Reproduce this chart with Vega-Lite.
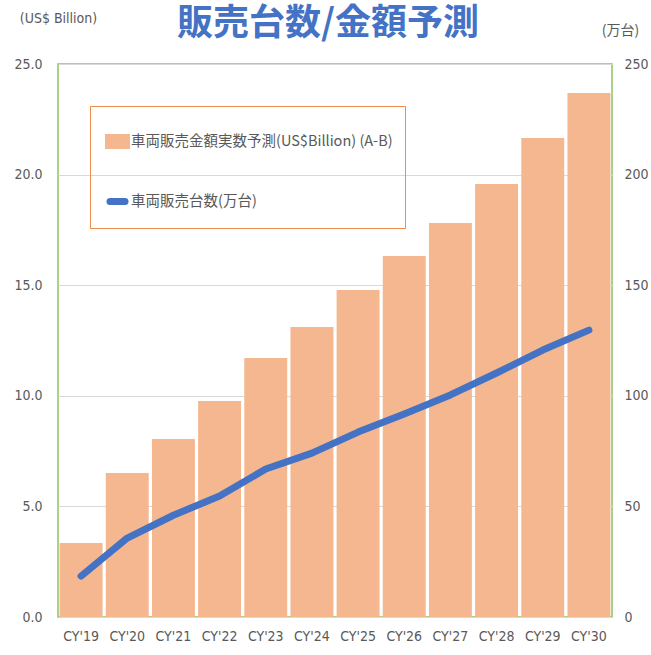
{
  "$schema": "https://vega.github.io/schema/vega-lite/v6.json",
  "width": 554,
  "height": 553,
  "autosize": {"type": "none"},
  "padding": {"left": 58, "top": 64, "right": 39, "bottom": 38},
  "background": "white",
  "title": {
    "text": "販売台数/金額予測",
    "font": "Noto Sans CJK JP",
    "fontWeight": "bold",
    "fontSize": 36,
    "color": "#4472C4",
    "anchor": "middle",
    "frame": "group",
    "dx": -7,
    "offset": 0,
    "dy": 32
  },
  "config": {
    "view": {"stroke": "#8DC262", "strokeWidth": 1.5},
    "axis": {
      "labelFont": "'DejaVu Sans Condensed', 'Liberation Sans Narrow', sans-serif",
      "labelFontSize": 14,
      "labelColor": "#595959",
      "titleFont": "'DejaVu Sans Condensed', 'Liberation Sans Narrow', sans-serif",
      "titleFontSize": 14,
      "titleFontWeight": "normal",
      "titleColor": "#595959"
    }
  },
  "data": {
    "values": [
      {"year": "CY'19", "amount": 3.35, "units": 18.5},
      {"year": "CY'20", "amount": 6.51, "units": 35.7},
      {"year": "CY'21", "amount": 8.05, "units": 46.0},
      {"year": "CY'22", "amount": 9.76, "units": 54.7},
      {"year": "CY'23", "amount": 11.71, "units": 66.9},
      {"year": "CY'24", "amount": 13.11, "units": 74.1},
      {"year": "CY'25", "amount": 14.78, "units": 83.6},
      {"year": "CY'26", "amount": 16.32, "units": 91.8},
      {"year": "CY'27", "amount": 17.81, "units": 100.4},
      {"year": "CY'28", "amount": 19.58, "units": 110.3},
      {"year": "CY'29", "amount": 21.65, "units": 120.7},
      {"year": "CY'30", "amount": 23.69, "units": 129.7}
    ]
  },
  "encoding": {
    "x": {
      "field": "year",
      "type": "ordinal",
      "sort": null,
      "scale": {"paddingInner": 0.07, "paddingOuter": 0.035},
      "axis": {
        "title": null,
        "labelAngle": 0,
        "domain": false,
        "ticks": false,
        "labelPadding": 12
      }
    }
  },
  "layer": [
    {
      "mark": {"type": "bar", "color": "#F4B78F"},
      "encoding": {
        "y": {
          "field": "amount",
          "type": "quantitative",
          "scale": {"domain": [0, 25], "nice": false},
          "axis": {
            "values": [0, 5, 10, 15, 20, 25],
            "format": ".1f",
            "domain": false,
            "ticks": false,
            "labelPadding": 16,
            "gridColor": "#D9D9D9",
            "title": "(US$ Billion)",
            "titleAngle": 0,
            "titleX": 0,
            "titleY": -46,
            "titleAlign": "center",
            "titleBaseline": "middle"
          }
        },
        "color": {
          "datum": "車両販売金額実数予測(US$Billion) (A-B)",
          "type": "nominal",
          "scale": {
            "domain": ["車両販売金額実数予測(US$Billion) (A-B)", "車両販売台数(万台)"],
            "range": ["#F4B78F", "#4472C4"]
          },
          "legend": {
            "orient": "none",
            "legendX": 32,
            "legendY": 42,
            "title": null,
            "strokeColor": "#F08C4A",
            "padding": 12,
            "rowPadding": 18,
            "symbolSize": 1600,
            "labelFont": "Noto Sans CJK JP",
            "labelFontSize": 14.5,
            "labelColor": "#595959",
            "labelLimit": 400,
            "labelOffset": -18,
            "encode": {
              "symbols": {
                "update": {
                  "shape": [
                    {"test": "datum.value === '車両販売台数(万台)'", "value": "M-0.775,0H-0.025"},
                    {"value": "M-0.85,-0.2H0.05V0.2H-0.85Z"}
                  ],
                  "fill": [
                    {"test": "datum.value === '車両販売台数(万台)'", "value": "transparent"},
                    {"value": "#F4B78F"}
                  ],
                  "stroke": [
                    {"test": "datum.value === '車両販売台数(万台)'", "value": "#4472C4"},
                    {"value": "transparent"}
                  ],
                  "strokeWidth": {"value": 7},
                  "strokeCap": {"value": "round"},
                  "opacity": {"value": 1}
                }
              }
            }
          }
        }
      }
    },
    {
      "mark": {"type": "line", "strokeWidth": 7, "strokeCap": "round", "strokeJoin": "round"},
      "encoding": {
        "y": {
          "field": "units",
          "type": "quantitative",
          "scale": {"domain": [0, 250], "nice": false},
          "axis": {
            "orient": "right",
            "values": [0, 50, 100, 150, 200, 250],
            "format": "d",
            "grid": false,
            "domain": false,
            "ticks": false,
            "labelPadding": 12,
            "title": "(万台)",
            "titleFont": "Noto Sans CJK JP",
            "titleFontSize": 14,
            "titleAngle": 0,
            "titleX": 8,
            "titleY": -34,
            "titleAlign": "center",
            "titleBaseline": "middle"
          }
        },
        "color": {"datum": "車両販売台数(万台)", "type": "nominal"}
      }
    }
  ],
  "resolve": {"scale": {"y": "independent"}}
}
